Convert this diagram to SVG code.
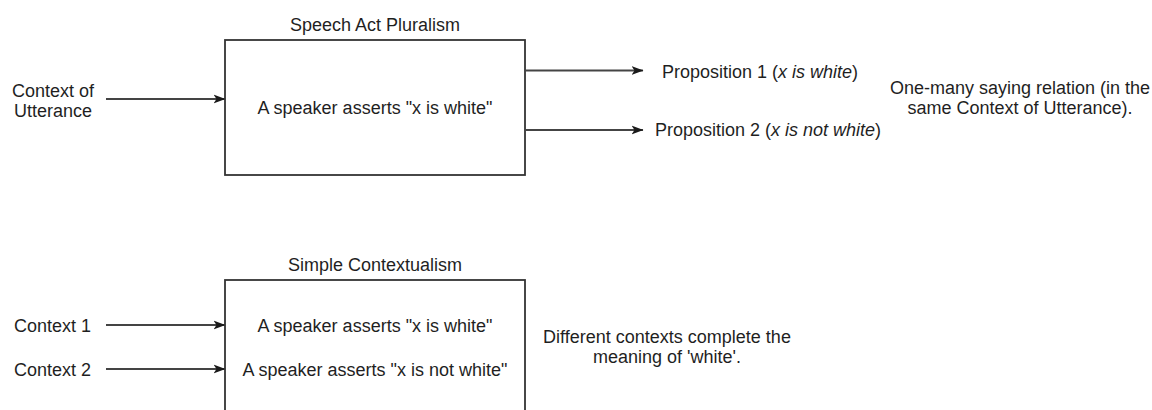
<svg xmlns="http://www.w3.org/2000/svg" width="1152" height="410" viewBox="0 0 1152 410">
  <style>
    text { font-family: "Liberation Sans", Arial, sans-serif; font-size: 18px; fill: #1f1f1f; }
    .c { text-anchor: middle; }
    .box { fill: #ffffff; stroke: #333333; stroke-width: 1.8; }
    .edge { fill: none; stroke: #444444; stroke-width: 1.8; marker-end: url(#arrow); }
  </style>
  <defs>
    <marker id="arrow" viewBox="0 0 12 10" refX="11.5" refY="5" markerWidth="12" markerHeight="10" markerUnits="userSpaceOnUse" orient="auto">
      <path d="M0,0.5 L12,5 L0,9.5 L3,5 Z" fill="#1a1a1a"/>
    </marker>
  </defs>
  <rect width="1152" height="410" fill="#ffffff"/>

  <g id="speech-act-pluralism">
    <text class="c" x="375" y="31">Speech Act Pluralism</text>
    <rect class="box" x="225" y="40" width="300" height="135"/>
    <text class="c" x="375" y="114">A speaker asserts "x is white"</text>
  </g>

  <g id="context-of-utterance">
    <text class="c" x="53" y="97">Context of</text>
    <text class="c" x="53" y="117">Utterance</text>
  </g>

  <g id="proposition-1">
    <text x="662" y="78">Proposition 1 (<tspan font-style="italic">x is white</tspan>)</text>
  </g>

  <g id="proposition-2">
    <text x="655" y="136">Proposition 2 (<tspan font-style="italic">x is not white</tspan>)</text>
  </g>

  <g id="note-one-many">
    <text class="c" x="1020" y="94">One-many saying relation (in the</text>
    <text class="c" x="1020" y="114">same Context of Utterance).</text>
  </g>

  <g id="simple-contextualism">
    <text class="c" x="375" y="271">Simple Contextualism</text>
    <rect class="box" x="225" y="280" width="300" height="150"/>
    <text class="c" x="375" y="332">A speaker asserts "x is white"</text>
    <text class="c" x="375" y="376">A speaker asserts "x is not white"</text>
  </g>

  <g id="context-1">
    <text x="14" y="332">Context 1</text>
  </g>

  <g id="context-2">
    <text x="14" y="376">Context 2</text>
  </g>

  <g id="note-different-contexts">
    <text class="c" x="667" y="343">Different contexts complete the</text>
    <text class="c" x="667" y="363">meaning of 'white'.</text>
  </g>

  <g id="connectors">
    <line class="edge" x1="106" y1="99" x2="225" y2="99"/>
    <line class="edge" x1="525" y1="70.5" x2="643" y2="70.5"/>
    <line class="edge" x1="525" y1="130" x2="643" y2="130"/>
    <line class="edge" x1="106" y1="325" x2="225" y2="325"/>
    <line class="edge" x1="106" y1="369" x2="225" y2="369"/>
  </g>
</svg>
